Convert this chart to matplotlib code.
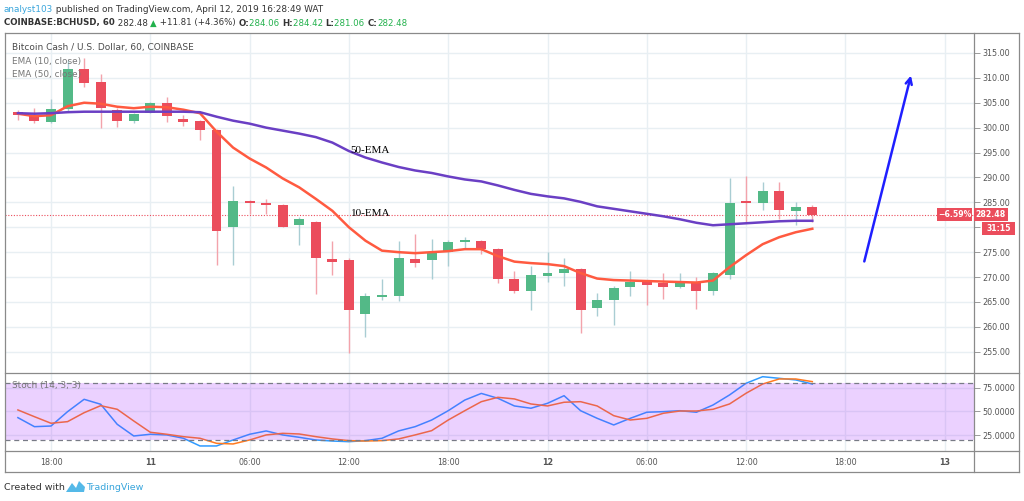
import matplotlib
matplotlib.use("Agg")
import matplotlib.pyplot as plt
import numpy as np
from matplotlib.patches import Rectangle, Polygon
from matplotlib.lines import Line2D

# hours from Apr 10 18:00 (one candle per hour)
hours = list(range(-2, 47))
opens = [303.1, 302.6, 301.2, 303.7, 311.7, 309.1, 303.6, 301.3, 303.0, 305.0,
         301.7, 301.3, 299.5, 280.1, 285.3, 284.8, 284.5, 280.5, 281.1, 273.7,
         273.4, 262.6, 266.0, 266.2, 273.6, 273.4, 275.0, 277.1, 277.3, 275.6,
         269.7, 267.3, 270.3, 270.8, 271.6, 263.7, 265.3, 268.1, 269.1, 268.8,
         268.1, 268.8, 267.3, 270.4, 285.3, 284.9, 287.3, 283.3, 284.06]
highs = [303.6, 304.0, 305.8, 313.5, 314.0, 310.7, 304.0, 302.9, 305.1, 306.1,
         302.6, 301.6, 299.8, 288.2, 285.5, 285.6, 284.6, 282.0, 281.3, 277.2,
         273.8, 266.9, 269.6, 277.2, 278.6, 277.6, 277.4, 278.1, 277.5, 275.8,
         271.2, 272.3, 275.0, 273.8, 271.8, 266.9, 268.3, 271.2, 269.3, 270.8,
         270.8, 270.1, 271.0, 289.8, 290.3, 289.0, 289.0, 285.1, 284.42]
lows = [301.5, 301.0, 301.0, 303.2, 308.2, 299.9, 300.2, 300.9, 302.9, 301.2,
        300.3, 297.5, 272.4, 272.4, 282.7, 282.7, 280.0, 276.4, 266.5, 270.4,
        254.7, 258.0, 265.3, 265.2, 272.1, 269.6, 272.3, 275.8, 274.6, 268.9,
        266.9, 263.4, 269.1, 268.3, 258.7, 262.1, 260.4, 266.2, 264.3, 265.6,
        267.9, 263.5, 266.4, 269.6, 281.1, 283.5, 281.6, 280.5, 281.06]
closes = [302.6, 301.3, 303.7, 311.7, 309.0, 303.9, 301.3, 302.8, 304.9, 302.3,
          301.1, 299.5, 279.3, 285.3, 284.9, 284.4, 280.1, 281.7, 273.8, 273.1,
          263.4, 266.1, 266.3, 273.9, 272.8, 275.1, 277.0, 277.3, 275.6, 269.6,
          267.3, 270.5, 270.9, 271.6, 263.4, 265.4, 267.9, 269.1, 268.4, 268.1,
          268.8, 267.3, 270.8, 284.9, 284.8, 287.3, 283.5, 284.1, 282.48]

ema10 = [302.8, 302.3, 302.5, 304.3, 305.0, 304.8, 304.2, 303.9, 304.2, 304.1,
         303.6, 302.9, 299.2, 296.0, 293.8, 292.0, 289.8, 288.0, 285.7, 283.3,
         280.0, 277.3, 275.3, 275.0, 274.8, 275.0, 275.2, 275.6, 275.6, 274.2,
         273.1, 272.8, 272.6, 272.2, 270.8, 269.7, 269.4, 269.3, 269.2, 269.1,
         269.0, 268.9, 269.3, 272.0, 274.4, 276.6, 278.0, 279.0, 279.7]
ema50 = [302.9, 302.8, 302.9, 303.1, 303.2, 303.2, 303.2, 303.2, 303.2, 303.2,
         303.2, 303.1, 302.2, 301.4, 300.8, 300.0, 299.4, 298.8, 298.1, 297.0,
         295.3, 294.0, 293.0, 292.1, 291.4, 290.9, 290.2, 289.6, 289.2, 288.4,
         287.5, 286.7, 286.2, 285.8, 285.1, 284.2, 283.7, 283.2, 282.7, 282.2,
         281.6, 280.9, 280.4, 280.6, 280.8, 281.0, 281.2, 281.3, 281.3]

stoch_k = [43.5, 34.0, 34.7, 49.8, 62.8, 57.6, 36.5, 24.2, 26.0, 25.3,
           21.8, 13.7, 13.7, 20.0, 26.0, 29.5, 25.3, 22.8, 20.0, 18.9,
           18.2, 19.3, 21.8, 29.5, 34.0, 41.0, 50.8, 62.0, 69.0, 63.9,
           55.8, 53.4, 58.6, 66.6, 50.8, 42.8, 35.8, 42.8, 49.2, 49.8,
           50.8, 49.2, 56.8, 67.4, 79.7, 86.6, 84.9, 83.2, 78.9]
stoch_d = [51.6, 44.5, 37.6, 39.3, 48.7, 56.1, 52.3, 40.0, 28.1, 26.0,
           23.5, 21.8, 16.5, 15.8, 20.0, 25.3, 27.0, 26.3, 23.5, 21.1,
           19.3, 18.9, 19.3, 21.1, 25.3, 29.8, 41.0, 50.8, 60.3, 64.9,
           63.2, 57.9, 55.8, 59.7, 60.3, 55.8, 45.6, 41.0, 42.8, 48.1,
           50.5, 50.5, 52.3, 57.9, 69.2, 78.9, 84.2, 84.2, 81.4]

tick_hours = [0, 6, 12, 18, 24, 30, 36, 42, 48, 54]
tick_names = ["18:00", "11", "06:00", "12:00", "18:00", "12", "06:00", "12:00", "18:00", "13"]
price_ticks = [255, 260, 265, 270, 275, 280, 285, 290, 295, 300, 305, 310, 315]
last_price = 282.48

W, H = 1024, 501
UP, DOWN = "#53b987", "#eb4d5c"
GRID = "#e8eff3"
FRAME = "#8a8a8a"
TXT = "#555555"

fig = plt.figure(figsize=(W / 100, H / 100), dpi=100)
fig.patch.set_facecolor("white")


def fx(px):
    return px / W


def fy(py):
    return 1 - py / H


ax1 = fig.add_axes([fx(5), fy(372.7), fx(974 - 5), (372.7 - 33) / H])
ax2 = fig.add_axes([fx(5), fy(451), fx(974 - 5), (451 - 372.7) / H])

x = np.array(hours)
o, hi, lo, c = map(np.array, (opens, highs, lows, closes))
up = c >= o
body_low = np.minimum(o, c)
body_h = np.maximum(np.abs(c - o), 0.3)

# price panel
ax1.vlines(x[up], lo[up], hi[up], color="#a9cdd3", lw=1, zorder=2)
ax1.vlines(x[~up], lo[~up], hi[~up], color="#f3a3ab", lw=1, zorder=2)
ax1.bar(x[up], body_h[up], 0.6, bottom=body_low[up], color=UP, zorder=3)
ax1.bar(x[~up], body_h[~up], 0.6, bottom=body_low[~up], color=DOWN, zorder=3)
ax1.plot(x, ema10, color="#ff5a40", lw=1.8, zorder=4)
ax1.plot(x, ema50, color="#6a3fc4", lw=1.8, zorder=4)
ax1.axhline(last_price, color="#eb4d5c", lw=0.8, ls=(0, (1, 1.5)), zorder=1)

ax1.set_xlim(-2.78, 55.77)
ax1.set_ylim(250.8, 319.0)
ax1.set_yticks(price_ticks)
# 280.00 sits behind the countdown tag in the original
ax1.set_yticklabels(["" if p == 280 else f"{p:.2f}" for p in price_ticks])
ax1.set_xticks(tick_hours)
ax1.tick_params(axis="x", length=0, labelbottom=False)
ax1.yaxis.tick_right()
ax1.tick_params(axis="y", length=4, width=0.6, color=FRAME, pad=2, labelsize=5.8, labelcolor=TXT)
ax1.grid(True, color=GRID, lw=1)
ax1.set_axisbelow(True)

ax1.text(18.1, 295.5, "50-EMA", family="Liberation Serif", fontsize=8, va="center", zorder=6)
ax1.text(18.1, 282.7, "10-EMA", family="Liberation Serif", fontsize=8, va="center", zorder=6)

ax1.annotate("", xy=(52.0, 311.0), xytext=(49.1, 272.6),
             arrowprops=dict(arrowstyle="->", color="#1f1fff", lw=1.8, mutation_scale=11))

ax1.text(0.0075, 0.957, "Bitcoin Cash / U.S. Dollar, 60, COINBASE", transform=ax1.transAxes,
         fontsize=6.5, color="#4a4a4a", va="center")
ax1.text(0.0075, 0.916, "EMA (10, close)", transform=ax1.transAxes, fontsize=6.4, color="#777777", va="center")
ax1.text(0.0075, 0.877, "EMA (50, close)", transform=ax1.transAxes, fontsize=6.4, color="#777777", va="center")

# stochastic panel
ax2.plot(x, stoch_k, color="#2f9bff", lw=1.1, zorder=2)
ax2.plot(x, stoch_d, color="#ff7a20", lw=1.1, zorder=2)
ax2.axhspan(20, 80, color="#9d1aff", alpha=0.2, lw=0, zorder=3)
ax2.axhline(80, color="#787b86", lw=0.9, ls=(0, (4, 3)), zorder=4)
ax2.axhline(20, color="#787b86", lw=0.9, ls=(0, (4, 3)), zorder=4)
ax2.set_xlim(-2.78, 55.77)
ax2.set_ylim(8.4, 90.8)
ax2.set_yticks([25, 50, 75])
ax2.set_yticklabels(["25.0000", "50.0000", "75.0000"])
ax2.yaxis.tick_right()
ax2.tick_params(axis="y", length=4, width=0.6, color=FRAME, pad=2, labelsize=5.8, labelcolor=TXT)
ax2.set_xticks(tick_hours)
ax2.set_xticklabels(tick_names)
ax2.tick_params(axis="x", length=0, pad=5, labelsize=5.8, labelcolor=TXT)
for lab in ax2.get_xticklabels():
    if lab.get_text() in ("11", "12", "13"):
        lab.set_fontweight("bold")
ax2.grid(True, color=GRID, lw=1)
ax2.set_axisbelow(True)
ax2.text(0.0075, 0.84, "Stoch (14, 3, 3)", transform=ax2.transAxes, fontsize=6.4, color="#777777",
         va="center", zorder=6)

for a in (ax1, ax2):
    for s in a.spines.values():
        s.set_visible(False)

# frame lines
for (x0, y0, x1, y1) in [(5, 33, 1019, 33), (5, 472, 1019, 472), (5, 33, 5, 472),
                         (1019, 33, 1019, 472), (974, 33, 974, 472),
                         (5, 372.7, 1019, 372.7), (5, 451, 1019, 451)]:
    fig.add_artist(Line2D([fx(x0), fx(x1)], [fy(y0), fy(y1)], color=FRAME, lw=0.9))


def tag(x0, x1, yc, text, h=12.5):
    fig.add_artist(Rectangle((fx(x0), fy(yc + h / 2)), fx(x1 - x0), h / H,
                             facecolor=DOWN, edgecolor="none", zorder=10))
    fig.text(fx((x0 + x1) / 2), fy(yc), text, color="white", fontsize=5.6,
             fontweight="bold", ha="center", va="center", zorder=11)


tag(974, 1008, 214.3, "282.48")
tag(982, 1015, 228.4, "31:15")
tag(937, 972, 214.3, "\u22126.59%")


def put_line(pieces, x0, y, size):
    r = fig.canvas.get_renderer()
    xp = x0
    for s, col, wt in pieces:
        t = fig.text(fx(xp), fy(y), s, color=col, fontweight=wt, fontsize=size, va="center", ha="left")
        xp += t.get_window_extent(renderer=r).width


DARK = "#333333"
GREEN = "#22b14c"
put_line([("analyst103", "#3aa6dc", "normal"),
          (" published on TradingView.com, April 12, 2019 16:28:49 WAT", DARK, "normal")], 4, 9, 6.4)
put_line([("COINBASE:BCHUSD, 60", DARK, "bold"), (" 282.48 ", DARK, "normal"),
          ("\u25b2", GREEN, "normal"), (" +11.81 (+4.36%) ", DARK, "normal"),
          ("O:", DARK, "bold"), ("284.06 ", GREEN, "normal"),
          ("H:", DARK, "bold"), ("284.42 ", GREEN, "normal"),
          ("L:", DARK, "bold"), ("281.06 ", GREEN, "normal"),
          ("C:", DARK, "bold"), ("282.48", GREEN, "normal")], 4, 23, 6.2)

# footer
fig.text(fx(4), fy(487), "Created with", fontsize=6.8, color=DARK, va="center")
logo = Polygon([[fx(66), fy(492)], [fx(72), fy(483)], [fx(76), fy(488)], [fx(79), fy(481)],
                [fx(85), fy(487)], [fx(84), fy(492)]], closed=True, facecolor="#54b9e8",
               edgecolor="none")
fig.add_artist(logo)
fig.text(fx(86), fy(487), "TradingView", fontsize=6.8, color="#3aa6dc", va="center")

fig.savefig("out.png", dpi=100)
